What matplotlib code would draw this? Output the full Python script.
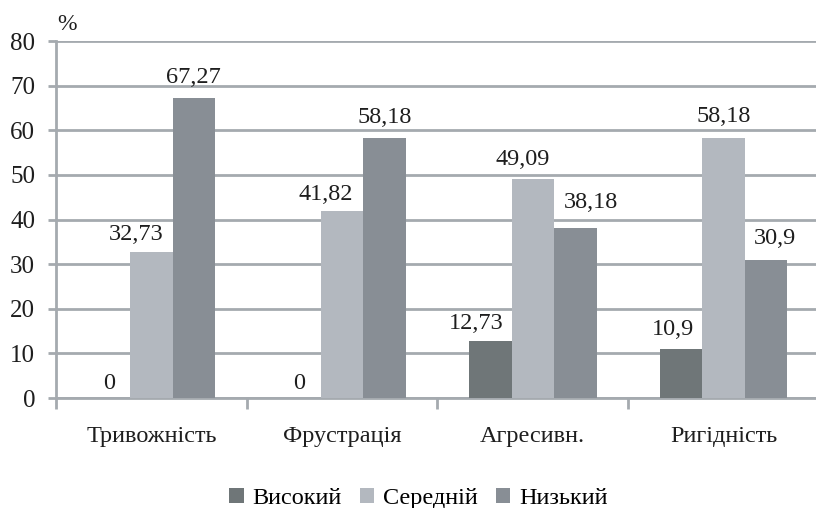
import numpy as np
import matplotlib.pyplot as plt

categories = ["Тривожність", "Фрустрація", "Агресивн.", "Ригідність"]
series = ["Високий", "Середній", "Низький"]
high = [0, 0, 12.73, 10.9]
mid = [32.73, 41.82, 49.09, 58.18]
low = [67.27, 58.18, 38.18, 30.9]
labels_high = ["0", "0", "12,73", "10,9"]
labels_mid = ["32,73", "41,82", "49,09", "58,18"]
labels_low = ["67,27", "58,18", "38,18", "30,9"]

# label nudges (pixels) so that neighbouring labels do not collide
nudge_x = [[0, 0, -14, -8], [-15, -16, -10, 0], [0, 0, 16, 9]]
nudge_y = [[9, 9, 12, 14], [12, 11, 14, 16], [15, 15, 20, 16]]

colors = ["#6f7678", "#b3b8bf", "#888e95"]
grid_c = "#a5aaaf"
txt_c = "#1e1e1e"

plt.rcParams["font.family"] = ["Liberation Serif", "DejaVu Serif"]

fig = plt.figure(figsize=(8.16, 5.08), dpi=100)
ax = fig.add_axes([0.0686, 0.2165, 0.935, 0.7025])

x = np.arange(len(categories))
w = 0.223
for i, (vals, labs) in enumerate(zip([high, mid, low], [labels_high, labels_mid, labels_low])):
    pos = x + (i - 1) * w
    ax.bar(pos, vals, w, color=colors[i], label=series[i], zorder=3)
    for j, (p, v, t) in enumerate(zip(pos, vals, labs)):
        ax.annotate(t, (p, v), xytext=(nudge_x[i][j], nudge_y[i][j]),
                    textcoords="offset pixels", ha="center", va="baseline",
                    fontsize=17.5, color=txt_c)

ax.set_xlim(-0.5, len(categories) - 0.5)
ax.set_ylim(0, 80)
ax.set_yticks(range(0, 81, 10))
ax.yaxis.grid(True, color=grid_c, linewidth=2, zorder=0)
ax.set_axisbelow(True)

ax.set_xticks(np.arange(-0.5, len(categories), 1.0))
ax.set_xticklabels([])
ax.set_xticks(x, minor=True)
ax.set_xticklabels(categories, minor=True, fontsize=17.5, color=txt_c)
ax.tick_params(axis="x", which="minor", length=0, pad=20)
ax.tick_params(axis="x", which="major", length=8, width=2, color=grid_c)
ax.tick_params(axis="y", length=6, width=2, color=grid_c, labelsize=18, labelcolor=txt_c, pad=9)

for s in ["top", "right"]:
    ax.spines[s].set_visible(False)
for s in ["left", "bottom"]:
    ax.spines[s].set_color(grid_c)
    ax.spines[s].set_linewidth(2)

fig.text(0.07, 0.94, "%", fontsize=17, color=txt_c)

ax.legend(loc="upper center", bbox_to_anchor=(0.475, -0.19), ncol=3, frameon=False,
          fontsize=17.5, handlelength=0.6, handleheight=0.6, handletextpad=0.35,
          columnspacing=0.75)

fig.savefig("out.png", dpi=100)
